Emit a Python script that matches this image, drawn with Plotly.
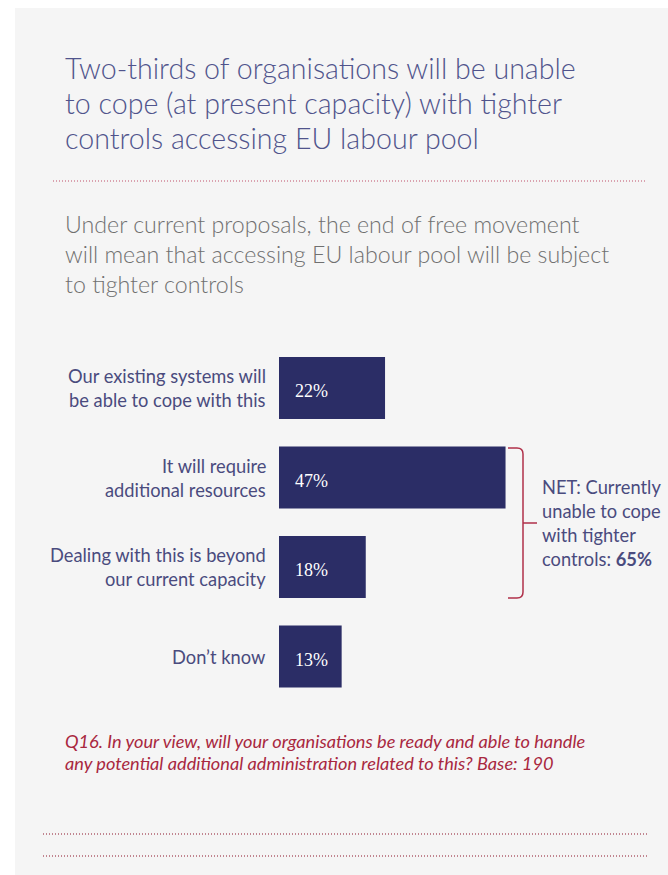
import plotly.graph_objects as go

W, H = 668, 875

categories = [
    "Our existing systems will<br>be able to cope with this",
    "It will require<br>additional resources",
    "Dealing with this is beyond<br>our current capacity",
    "Don\u2019t know",
]
values = [22, 47, 18, 13]
value_labels = ["22%", "47%", "18%", "13%"]

title_lines = [
    "Two-thirds of organisations will be unable",
    "to cope (at present capacity) with tighter",
    "controls accessing EU labour pool",
]
subtitle_lines = [
    "Under current proposals, the end of free movement",
    "will mean that accessing EU labour pool will be subject",
    "to tighter controls",
]
net_lines = ["NET: Currently", "unable to cope", "with tighter", "controls: <b>65%</b>"]
foot_lines = [
    "Q16. In your view, will your organisations be ready and able to handle",
    "any potential additional administration related to this? Base: 190",
]

NAVY = "#2b2d66"
LABEL = "#4a4b7e"
TITLE = "#50548c"
SUB = "#707070"
RED = "#a9283f"
BG = "#f5f5f5"


def px(x):
    return x / W


def py(y):
    return 1 - y / H


fig = go.Figure()
fig.add_trace(go.Bar(
    x=values, y=categories, orientation="h",
    marker=dict(color=NAVY, line=dict(width=0)),
    hoverinfo="skip",
))

ann = []


def text(t, x, y, size, color, family="Lato", weight=400, italic=False, xanchor="left"):
    ann.append(dict(
        text=t, x=px(x), y=py(y), xref="paper", yref="paper",
        xanchor=xanchor, yanchor="middle", showarrow=False, align=xanchor,
        font=dict(size=size, color=color, family=family, weight=weight,
                  style="italic" if italic else "normal"),
    ))


for i, t in enumerate(title_lines):
    text(t, 63, 68 + 35 * i, 28.6, TITLE, weight=300)
for i, t in enumerate(subtitle_lines):
    text(t, 63, 224 + 30 * i, 23.2, SUB, weight=300)
for i, t in enumerate(foot_lines):
    text(t, 63, 741 + 22 * i, 18.2, RED, italic=True)
for i, t in enumerate(net_lines):
    text(t, 540, 487 + 24 * i, 18.3, LABEL)

# category labels (right aligned, per line) and value labels inside bars
for cat, lab in zip(categories, value_labels):
    lines = cat.split("<br>")
    n = len(lines)
    for j, ln in enumerate(lines):
        ann.append(dict(
            text=ln, x=0, y=cat, xref="x", yref="y", xanchor="right", yanchor="middle",
            xshift=-11, yshift=(-(j - (n - 1) / 2) * 24), showarrow=False,
            font=dict(size=18.3, color=LABEL, family="Lato"),
        ))
    ann.append(dict(
        text=lab, x=0, y=cat, xref="x", yref="y", xanchor="left", yanchor="middle",
        xshift=14, yshift=-3, showarrow=False,
        font=dict(size=18, color="white", family="Liberation Serif"),
    ))

DOT = "1px,2px"
shapes = [
    # panel
    dict(type="rect", xref="paper", yref="paper", x0=px(15), x1=px(668), y0=py(875), y1=py(8),
         fillcolor=BG, line=dict(width=0), layer="below"),
    # dotted separators
    dict(type="line", xref="paper", yref="paper", x0=px(53), x1=px(646), y0=py(181), y1=py(181),
         line=dict(color="#c0506a", width=1.2, dash=DOT)),
    dict(type="line", xref="paper", yref="paper", x0=px(43), x1=px(647), y0=py(834), y1=py(834),
         line=dict(color="#b0606f", width=1.3, dash=DOT)),
    dict(type="line", xref="paper", yref="paper", x0=px(43), x1=px(647), y0=py(856), y1=py(856),
         line=dict(color="#b0606f", width=1.3, dash=DOT)),
]

# bracket
bx0, bx1, btop, bbot, bmid, r = 508, 523, 448, 598, 523, 6
path = (
    f"M {px(bx0)},{py(btop)} L {px(bx1 - r)},{py(btop)} "
    f"Q {px(bx1)},{py(btop)} {px(bx1)},{py(btop + r)} "
    f"L {px(bx1)},{py(bbot - r)} "
    f"Q {px(bx1)},{py(bbot)} {px(bx1 - r)},{py(bbot)} "
    f"L {px(bx0)},{py(bbot)} "
    f"M {px(bx1)},{py(bmid)} L {px(bx1 + 14)},{py(bmid)}"
)
shapes.append(dict(type="path", xref="paper", yref="paper", path=path,
                   line=dict(color="#b0304a", width=1.5)))

top, bot = 343.25, 701.25
fig.update_layout(
    width=W, height=H, margin=dict(l=0, r=0, t=0, b=0),
    paper_bgcolor="white", plot_bgcolor="rgba(0,0,0,0)",
    showlegend=False, bargap=0.307,
    xaxis=dict(domain=[px(279), 1], range=[0, (668 - 279) / 4.82], visible=False, fixedrange=True),
    yaxis=dict(domain=[py(bot), py(top)], autorange="reversed", showticklabels=False,
               showgrid=False, zeroline=False, ticks="", fixedrange=True),
    annotations=ann, shapes=shapes,
)

fig.write_html("out.html", config={"displayModeBar": False},
               post_script="document.body.style.margin='0';document.body.style.overflow='hidden';")
